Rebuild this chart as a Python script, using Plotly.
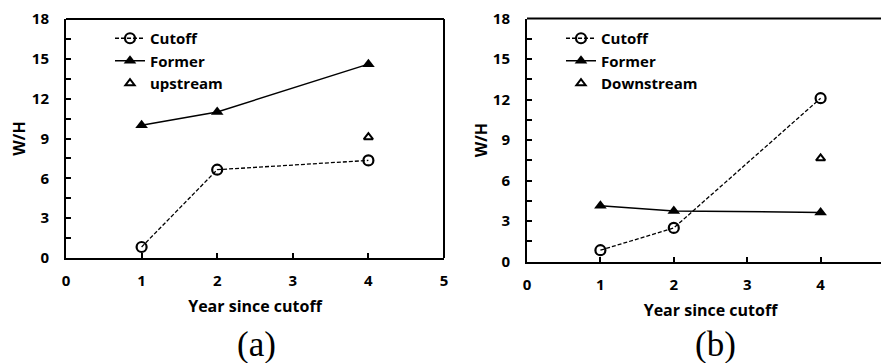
import plotly.graph_objects as go

# ---- data ----
years_a = [1, 2, 4]
cutoff_a = [0.83, 6.65, 7.35]
former_a = [10.0, 11.0, 14.6]
upstream_x = [4]
upstream_a = [9.1]

years_b = [1, 2, 4]
cutoff_b = [0.85, 2.5, 12.1]
former_b = [4.15, 3.75, 3.65]
downstream_x = [4]
downstream_b = [7.65]

y_ticks = [0, 3, 6, 9, 12, 15, 18]
x_ticks_a = [0, 1, 2, 3, 4, 5]
x_ticks_b = [0, 1, 2, 3, 4]

W, H = 889, 363
OFF = 8  # page body margin offset
FONT = "Open Sans"
BLACK = "#000000"

fig = go.Figure()

def add_panel(xs, cut, frm, tx, ty, tri_name, xa, ya, leg):
    fig.add_trace(go.Scatter(
        x=xs, y=cut, name="Cutoff", mode="lines+markers",
        line=dict(color=BLACK, width=1.3, dash="4px,2px"),
        marker=dict(symbol="circle-open", size=10, color=BLACK, line=dict(width=2.2)),
        xaxis=xa, yaxis=ya, legend=leg))
    fig.add_trace(go.Scatter(
        x=xs, y=frm, name="Former", mode="lines+markers",
        line=dict(color=BLACK, width=1.5),
        marker=dict(symbol="triangle-up", size=11, color=BLACK),
        xaxis=xa, yaxis=ya, legend=leg))
    fig.add_trace(go.Scatter(
        x=tx, y=ty, name=tri_name, mode="markers",
        marker=dict(symbol="triangle-up-open", size=8, color=BLACK, line=dict(width=2)),
        xaxis=xa, yaxis=ya, legend=leg))

add_panel(years_a, cutoff_a, former_a, upstream_x, upstream_a, "upstream", "x", "y", "legend")
add_panel(years_b, cutoff_b, former_b, downstream_x, downstream_b, "Downstream", "x2", "y2", "legend2")

tickfont = dict(family=FONT, size=15, color=BLACK, weight="bold")
titlefont = dict(family=FONT, size=16, color=BLACK, weight="bold")

def xaxis_cfg(domain, rng, anchor, ticks):
    return dict(domain=domain, range=rng, tickvals=ticks, ticktext=[str(v) for v in ticks],
                showline=True, linecolor=BLACK, linewidth=2, anchor=anchor, automargin=False,
                ticks="inside", ticklen=5, tickwidth=1.5, tickcolor=BLACK,
                showgrid=False, zeroline=False, tickfont=tickfont,
                ticklabelstandoff=8, ticklabeloverflow="allow",
                title=dict(text="Year since cutoff", font=titlefont, standoff=12))

def yaxis_cfg(domain, anchor, standoff):
    return dict(domain=domain, range=[0, 18], tickvals=y_ticks,
                showline=True, linecolor=BLACK, linewidth=2, automargin=False,
                ticks="inside", ticklen=5, tickwidth=1.5, tickcolor=BLACK,
                minor=dict(dtick=1.5, tick0=0, ticks="inside", ticklen=5, tickwidth=1.5,
                           tickcolor=BLACK, showgrid=False),
                showgrid=False, zeroline=False, tickfont=tickfont, anchor=anchor,
                ticklabelstandoff=12, ticklabeloverflow="allow",
                title=dict(text="W/H", font=titlefont, standoff=standoff))

def px_x(v):
    return (v - OFF) / W

def px_y(v):
    return 1 - (v - OFF) / H

xa_dom = [px_x(66), px_x(444)]
xb_dom = [px_x(527), px_x(894)]
ya_dom = [px_y(258), px_y(19)]
yb_dom = [px_y(261.7), px_y(18.5)]

legfont = dict(family=FONT, size=15, color=BLACK, weight="bold")
frame = dict(color=BLACK, width=2)

fig.update_layout(
    template="plotly_white",
    width=W, height=H,
    margin=dict(l=0, r=0, t=0, b=0, autoexpand=False),
    paper_bgcolor="white", plot_bgcolor="white",
    font=dict(family=FONT, color=BLACK),
    xaxis=xaxis_cfg(xa_dom, [0, 5], "y", x_ticks_a),
    yaxis=yaxis_cfg(ya_dom, "x", 9),
    xaxis2=xaxis_cfg(xb_dom, [0, 5], "y2", x_ticks_b),
    yaxis2=yaxis_cfg(yb_dom, "x2", 1),
    legend=dict(x=px_x(110), y=px_y(22), xanchor="left", yanchor="top",
                bgcolor="rgba(0,0,0,0)", font=legfont, tracegroupgap=0),
    legend2=dict(x=px_x(561), y=px_y(22), xanchor="left", yanchor="top",
                 bgcolor="rgba(0,0,0,0)", font=legfont, tracegroupgap=0),
    showlegend=True,
    shapes=[
        dict(type="line", xref="paper", yref="paper", x0=xa_dom[0], x1=xa_dom[1],
             y0=ya_dom[1], y1=ya_dom[1], line=frame, layer="above"),
        dict(type="line", xref="paper", yref="paper", x0=xa_dom[1], x1=xa_dom[1],
             y0=ya_dom[0], y1=ya_dom[1], line=frame, layer="above"),
        dict(type="line", xref="paper", yref="paper", x0=xb_dom[0], x1=1,
             y0=yb_dom[1], y1=yb_dom[1], line=frame, layer="above"),
    ],
    annotations=[
        dict(text="(a)", x=px_x(256), y=px_y(344), xref="paper", yref="paper",
             xanchor="center", yanchor="middle",
             showarrow=False, font=dict(family="Liberation Serif", size=35, color=BLACK)),
        dict(text="(b)", x=px_x(715), y=px_y(344), xref="paper", yref="paper",
             xanchor="center", yanchor="middle",
             showarrow=False, font=dict(family="Liberation Serif", size=35, color=BLACK)),
    ],
)

fig.write_html("out.html")
